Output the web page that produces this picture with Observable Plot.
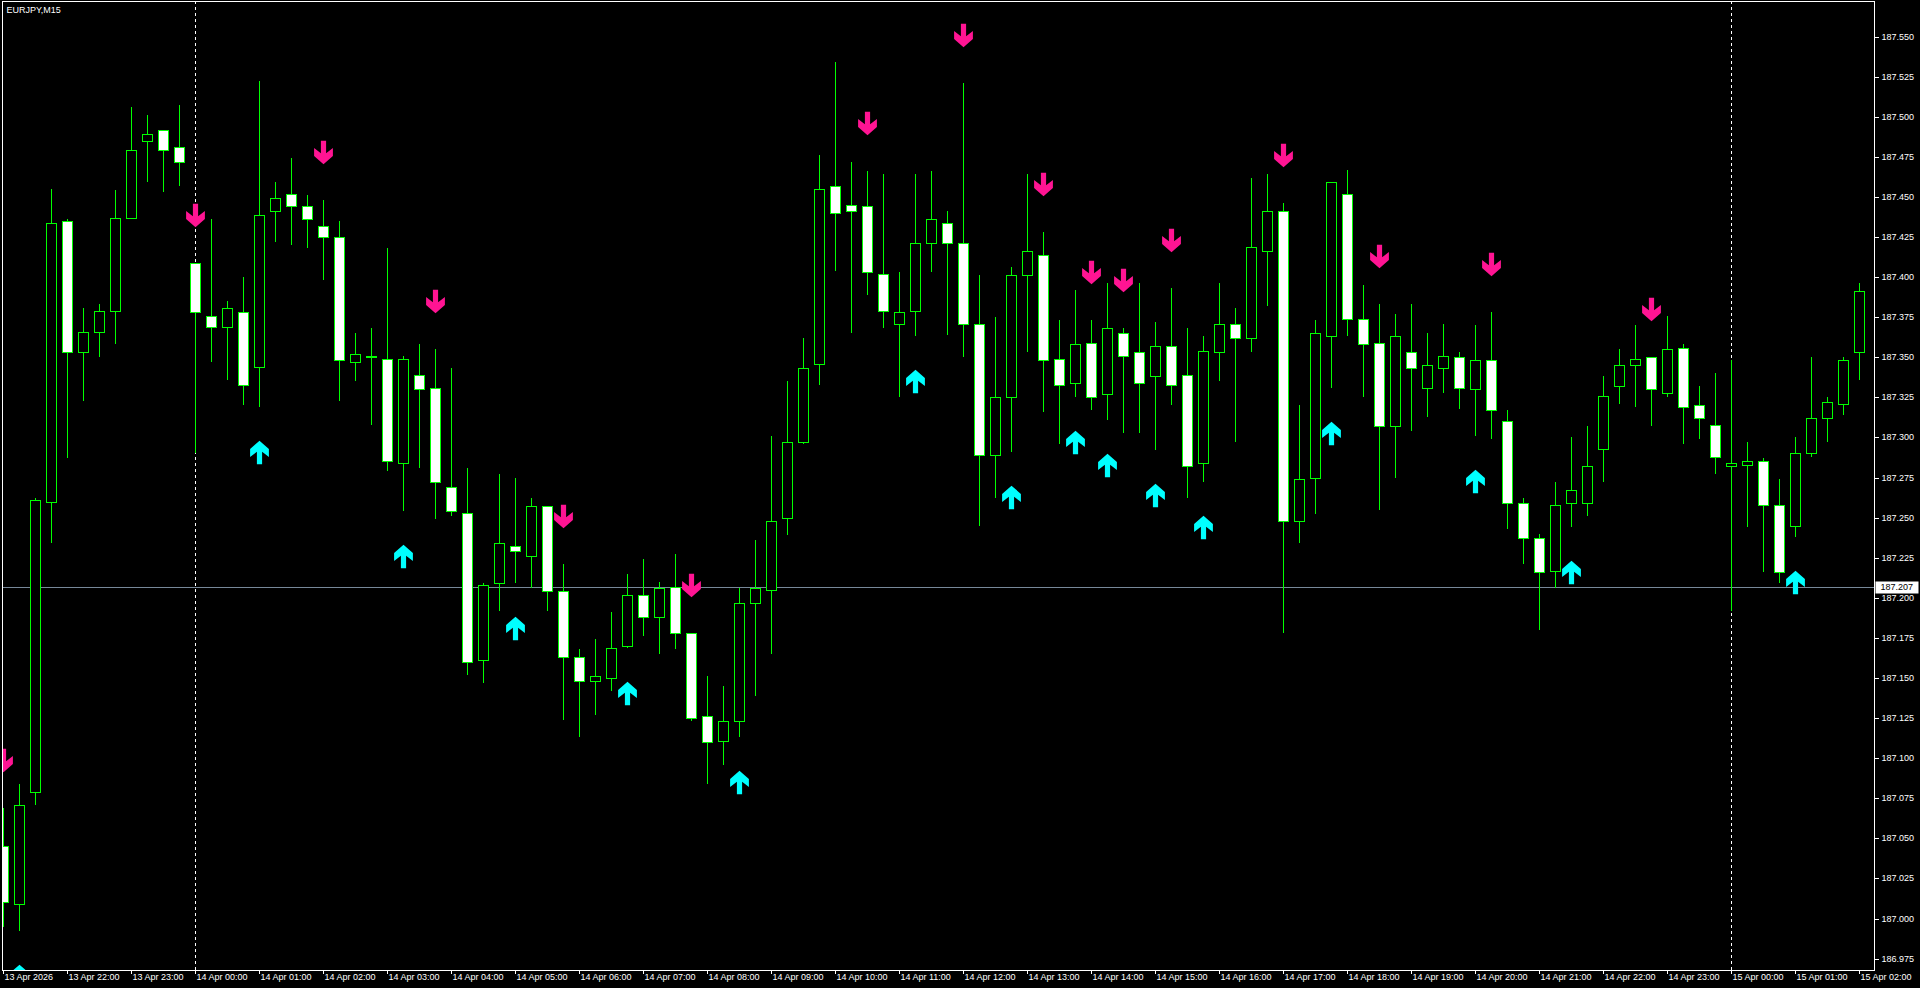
<!DOCTYPE html>
<html>
<head>
<meta charset="utf-8">
<script src="https://cdn.jsdelivr.net/npm/d3@7"></script>
<script src="https://cdn.jsdelivr.net/npm/@observablehq/plot@0.6"></script>
<style>
  html, body { margin: 0; padding: 0; background: #000; overflow: hidden; }
</style>
</head>
<body>
<div id="chart"></div>
<script>
// ---- data (EURJPY, M15, 13 Apr 21:00 .. 15 Apr 02:00) ----
const symbolTitle = "EURJPY,M15";
const openP = [
  187.045,187.009,187.079,187.260,187.435,187.353,187.366,187.379,187.437,187.485,
  187.492,187.481,187.409,187.376,187.369,187.378,187.344,187.441,187.452,187.444,
  187.432,187.425,187.347,187.350,187.349,187.284,187.339,187.331,187.269,187.253,
  187.161,187.209,187.232,187.226,187.257,187.204,187.163,187.148,187.150,187.170,
  187.202,187.188,187.207,187.178,187.126,187.111,187.123,187.197,187.205,187.250,
  187.297,187.346,187.457,187.445,187.444,187.402,187.371,187.379,187.421,187.434,
  187.421,187.371,187.289,187.325,187.401,187.414,187.349,187.334,187.359,187.327,
  187.365,187.353,187.338,187.357,187.339,187.284,187.353,187.371,187.362,187.416,
  187.441,187.248,187.275,187.363,187.452,187.374,187.359,187.307,187.353,187.331,
  187.343,187.350,187.330,187.348,187.310,187.259,187.237,187.217,187.259,187.259,
  187.293,187.332,187.345,187.350,187.328,187.356,187.320,187.308,187.282,187.283,
  187.285,187.258,187.245,187.290,187.312,187.321,187.353
];
const highP = [
  187.069,187.084,187.262,187.455,187.436,187.381,187.383,187.454,187.506,187.501,
  187.492,187.507,187.409,187.436,187.385,187.400,187.522,187.459,187.474,187.451,
  187.448,187.435,187.365,187.368,187.418,187.351,187.358,187.355,187.343,187.281,
  187.209,187.277,187.275,187.262,187.257,187.221,187.168,187.174,187.191,187.215,
  187.224,187.210,187.227,187.178,187.151,187.145,187.206,187.236,187.301,187.335,
  187.362,187.476,187.534,187.472,187.466,187.464,187.403,187.464,187.466,187.441,
  187.521,187.401,187.375,187.406,187.464,187.428,187.373,187.392,187.373,187.396,
  187.368,187.396,187.372,187.393,187.368,187.363,187.396,187.381,187.462,187.464,
  187.446,187.320,187.373,187.459,187.467,187.395,187.383,187.377,187.383,187.365,
  187.371,187.353,187.370,187.378,187.317,187.262,187.240,187.272,187.300,187.307,
  187.338,187.355,187.370,187.350,187.376,187.358,187.332,187.340,187.348,187.297,
  187.287,187.274,187.300,187.350,187.325,187.350,187.396
];
const lowP = [
  186.995,186.992,187.071,187.234,187.287,187.323,187.350,187.358,187.436,187.459,
  187.453,187.457,187.290,187.347,187.336,187.320,187.319,187.422,187.420,187.418,
  187.398,187.323,187.335,187.308,187.279,187.254,187.281,187.249,187.251,187.152,
  187.147,187.192,187.209,187.206,187.192,187.124,187.113,187.127,187.142,187.169,
  187.176,187.165,187.168,187.123,187.084,187.096,187.113,187.139,187.165,187.239,
  187.296,187.333,187.404,187.365,187.389,187.368,187.325,187.363,187.403,187.364,
  187.350,187.245,187.262,187.291,187.353,187.316,187.296,187.325,187.317,187.311,
  187.303,187.303,187.292,187.320,187.262,187.272,187.335,187.297,187.353,187.382,
  187.178,187.234,187.252,187.331,187.363,187.325,187.255,187.275,187.304,187.313,
  187.328,187.318,187.301,187.299,187.243,187.221,187.180,187.206,187.244,187.251,
  187.272,187.321,187.319,187.307,187.325,187.296,187.299,187.277,187.192,187.244,
  187.216,187.209,187.238,187.288,187.297,187.314,187.336
];
const closeP = [
  187.010,187.071,187.261,187.434,187.353,187.366,187.379,187.437,187.479,187.489,
  187.479,187.472,187.378,187.369,187.381,187.333,187.439,187.449,187.444,187.436,
  187.425,187.348,187.352,187.351,187.285,187.349,187.330,187.272,187.254,187.160,
  187.208,187.234,187.229,187.257,187.204,187.163,187.148,187.151,187.169,187.202,
  187.188,187.206,187.178,187.125,187.110,187.123,187.197,187.206,187.248,187.297,
  187.343,187.455,187.440,187.441,187.403,187.379,187.378,187.421,187.436,187.421,
  187.371,187.289,187.325,187.401,187.416,187.348,187.333,187.358,187.325,187.368,
  187.351,187.334,187.357,187.333,187.282,187.354,187.371,187.362,187.419,187.441,
  187.248,187.274,187.365,187.459,187.374,187.358,187.307,187.363,187.343,187.345,
  187.351,187.331,187.348,187.317,187.259,187.237,187.216,187.258,187.267,187.282,
  187.326,187.345,187.349,187.330,187.355,187.319,187.312,187.288,187.284,187.285,
  187.258,187.216,187.290,187.312,187.322,187.348,187.391
];
// signal arrows (bar indices)
const sellSignals = [0,12,20,27,35,43,54,60,65,68,70,73,80,86,93,103];
const buySignals  = [1,16,25,32,39,46,57,63,67,69,72,75,83,92,98,112];
// current bid line
const bidPrice = 187.207;
// day separators (bar indices of 00:00)
const daySeparators = [12, 108];
// axis ticks
const yTicks = [186.975,187.000,187.025,187.050,187.075,187.100,187.125,187.150,187.175,187.200,
  187.225,187.250,187.275,187.300,187.325,187.350,187.375,187.400,187.425,187.450,187.475,187.500,187.525,187.550];
const xTickBars = [0,4,8,12,16,20,24,28,32,36,40,44,48,52,56,60,64,68,72,76,80,84,88,92,96,100,104,108,112,116];
const xTickLabels = ["13 Apr 2026","13 Apr 22:00","13 Apr 23:00","14 Apr 00:00","14 Apr 01:00","14 Apr 02:00",
  "14 Apr 03:00","14 Apr 04:00","14 Apr 05:00","14 Apr 06:00","14 Apr 07:00","14 Apr 08:00","14 Apr 09:00",
  "14 Apr 10:00","14 Apr 11:00","14 Apr 12:00","14 Apr 13:00","14 Apr 14:00","14 Apr 15:00","14 Apr 16:00",
  "14 Apr 17:00","14 Apr 18:00","14 Apr 19:00","14 Apr 20:00","14 Apr 21:00","14 Apr 22:00","14 Apr 23:00",
  "15 Apr 00:00","15 Apr 01:00","15 Apr 02:00"];

// ---- layout ----
const W = 1920, Hh = 988;
const mL = 2, mR = 46, mT = 1, mB = 18;
const barPx = 16, firstBarPx = 3;
const xDomain = [(mL - firstBarPx) / barPx, (W - mR - firstBarPx) / barPx];
const pxPerUnit = 1603.7, y550px = 36.5;
const yDomain = [187.550 - (Hh - mB - y550px) / pxPerUnit, 187.550 + (y550px - mT) / pxPerUnit];
const halfBody = 5 / barPx;

const candles = openP.map((o, i) => ({i, open: o, high: highP[i], low: lowP[i], close: closeP[i]}));
const bulls = candles.filter(d => d.close >= d.open);
const bears = candles.filter(d => d.close < d.open);
const sells = sellSignals.map(i => candles[i]);
const buys = buySignals.map(i => candles[i]);
const xTicks = xTickBars.map((b, k) => ({i: b, label: xTickLabels[k]}));

const LIME = "#00ff00", PINK = "#ff1493", AQUA = "#00ffff";

// Wingdings-like thick arrows
const arrowDown = {draw(c) {
  c.moveTo(-2.6, -11.8); c.lineTo(2.6, -11.8); c.lineTo(2.6, 0.8); c.lineTo(9.4, -4.4); c.lineTo(9.4, 3.6);
  c.lineTo(0, 11.8); c.lineTo(-9.4, 3.6); c.lineTo(-9.4, -4.4); c.lineTo(-2.6, 0.8); c.closePath();
}};
const arrowUp = {draw(c) {
  c.moveTo(-2.6, 11.8); c.lineTo(2.6, 11.8); c.lineTo(2.6, -0.8); c.lineTo(9.4, 4.4); c.lineTo(9.4, -3.6);
  c.lineTo(0, -11.8); c.lineTo(-9.4, -3.6); c.lineTo(-9.4, 4.4); c.lineTo(-2.6, -0.8); c.closePath();
}};
const priceTag = {draw(c) { c.rect(1, -6, 43, 12); }};

const chart = Plot.plot({
  width: W, height: Hh,
  marginLeft: mL, marginRight: mR, marginTop: mT, marginBottom: mB,
  style: {background: "#000", color: "#fff", fontFamily: "'Liberation Sans', Arial, sans-serif", fontSize: "9px"},
  x: {type: "linear", domain: xDomain, round: true, axis: "bottom", ticks: xTickBars, tickFormat: () => "", tickSize: 4, label: null},
  y: {type: "linear", domain: yDomain, round: true, axis: "right", ticks: yTicks, tickFormat: () => "", tickSize: 4, label: null},
  marks: [
    Plot.ruleY([bidPrice], {y: d => d, stroke: "#778899", shapeRendering: "crispEdges"}),
    Plot.ruleX(daySeparators, {x: d => d, stroke: "#fff", strokeDasharray: "3,3", shapeRendering: "crispEdges"}),
    Plot.ruleX(candles, {x: "i", y1: "low", y2: "high", stroke: LIME, clip: true, shapeRendering: "crispEdges"}),
    Plot.rect(bulls, {x1: d => d.i - halfBody, x2: d => d.i + halfBody, y1: "open", y2: "close", fill: "#000", stroke: LIME, inset: 0, clip: true, shapeRendering: "crispEdges"}),
    Plot.rect(bears, {x1: d => d.i - halfBody, x2: d => d.i + halfBody, y1: "open", y2: "close", fill: "#fff", stroke: LIME, inset: 0, clip: true, shapeRendering: "crispEdges"}),
    Plot.dot(sells, {x: "i", y: "high", dy: -48, symbol: arrowDown, fill: PINK, stroke: null, clip: true}),
    Plot.dot(buys, {x: "i", y: "low", dy: 45, symbol: arrowUp, fill: AQUA, stroke: null, clip: true}),
    Plot.frame({stroke: "#fff", shapeRendering: "crispEdges"}),
    Plot.text([symbolTitle], {frameAnchor: "top-left", dx: 4, dy: 5, lineAnchor: "top", textAnchor: "start", fill: "#fff", fontSize: 9}),
    Plot.text(yTicks, {x: xDomain[1], y: d => d, dx: 7, textAnchor: "start", text: d => d.toFixed(3), fill: "#fff", fontSize: 9}),
    Plot.dot([bidPrice], {x: xDomain[1], y: d => d, symbol: priceTag, fill: "#fff", stroke: null}),
    Plot.text([bidPrice], {x: xDomain[1], y: d => d, dx: 6, textAnchor: "start", text: d => d.toFixed(3), fill: "#000", fontSize: 9}),
    Plot.text(xTicks, {x: "i", y: yDomain[0], dy: 7, dx: 1, textAnchor: "start", text: "label", fill: "#fff", fontSize: 9, ariaLabel: "x-labels"})
  ]
});
document.getElementById("chart").appendChild(chart);
d3.select(chart).selectAll('g[aria-label="x-labels"] text').style("letter-spacing", "-0.7px");
d3.select(chart).selectAll('g[aria-label="x-axis tick"], g[aria-label="y-axis tick"]').attr("shape-rendering", "crispEdges");
</script>
</body>
</html>
